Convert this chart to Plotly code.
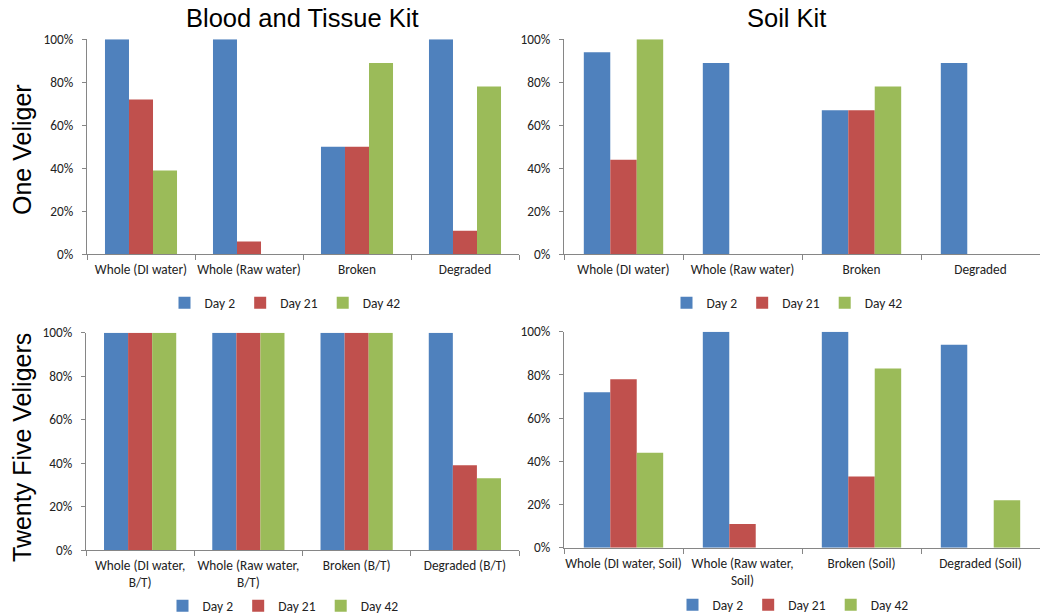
import plotly.graph_objects as go

# Categories for each panel
cats_bt_one = ["Whole (DI water)", "Whole (Raw water)", "Broken", "Degraded"]
cats_soil_one = ["Whole (DI water)", "Whole (Raw water)", "Broken", "Degraded"]
cats_bt_25 = ["Whole (DI water,<br>B/T)", "Whole (Raw water,<br>B/T)", "Broken (B/T)", "Degraded (B/T)"]
cats_soil_25 = ["Whole (DI water, Soil)", "Whole (Raw water,<br>Soil)", "Broken (Soil)", "Degraded (Soil)"]

series_names = ["Day 2", "Day 21", "Day 42"]

# Detection rates (fraction) per panel: Day 2, Day 21, Day 42
bt_one_day2 = [1.00, 1.00, 0.50, 1.00]
bt_one_day21 = [0.72, 0.06, 0.50, 0.11]
bt_one_day42 = [0.39, 0.00, 0.89, 0.78]

soil_one_day2 = [0.94, 0.89, 0.67, 0.89]
soil_one_day21 = [0.44, 0.00, 0.67, 0.00]
soil_one_day42 = [1.00, 0.00, 0.78, 0.00]

bt_25_day2 = [1.00, 1.00, 1.00, 1.00]
bt_25_day21 = [1.00, 1.00, 1.00, 0.39]
bt_25_day42 = [1.00, 1.00, 1.00, 0.33]

soil_25_day2 = [0.72, 1.00, 1.00, 0.94]
soil_25_day21 = [0.78, 0.11, 0.33, 0.00]
soil_25_day42 = [0.44, 0.00, 0.83, 0.22]

colors = ["#4F81BD", "#C0504D", "#9BBB59"]

W, H = 1042, 615
TICK_FONT = dict(family="Carlito, Calibri, Liberation Sans, Arial", size=13.3, color="#222222")
LEGEND_FONT = dict(family="Carlito, Calibri, Liberation Sans, Arial", size=13.5, color="#222222")
AXIS_COLOR = "#868686"

panels = [
    # (categories, series, xaxis id, yaxis id, legend id, x px range, y px range (top, bottom), legend center)
    (cats_bt_one, [bt_one_day2, bt_one_day21, bt_one_day42], "x", "y", "legend", (87, 519), (39.3, 254.3), (285, 303)),
    (cats_soil_one, [soil_one_day2, soil_one_day21, soil_one_day42], "x2", "y2", "legend2", (564, 1040), (39.3, 254.3), (787, 303)),
    (cats_bt_25, [bt_25_day2, bt_25_day21, bt_25_day42], "x3", "y3", "legend3", (86, 519), (332.7, 550), (283, 606)),
    (cats_soil_25, [soil_25_day2, soil_25_day21, soil_25_day42], "x4", "y4", "legend4", (564, 1040), (331.7, 547.7), (793, 605)),
]

fig = go.Figure()
layout = dict(
    width=W, height=H,
    margin=dict(l=0, r=0, t=0, b=0, autoexpand=False),
    paper_bgcolor="white", plot_bgcolor="white",
    barmode="group", bargap=0.333, bargroupgap=0,
    showlegend=True,
)

for cats, series, xa, ya, lg, (x0, x1), (ytop, ybot), (lx, ly) in panels:
    for name, vals, col in zip(series_names, series, colors):
        fig.add_trace(go.Bar(
            x=cats, y=vals, name=name, marker=dict(color=col, line=dict(width=0)),
            xaxis=xa, yaxis=ya, legend=lg,
        ))
    xkey = "xaxis" + xa[1:]
    ykey = "yaxis" + ya[1:]
    layout[xkey] = dict(
        domain=[x0 / W, x1 / W], anchor=ya, type="category",
        showline=True, linecolor=AXIS_COLOR, linewidth=1,
        ticks="outside", tickson="boundaries", ticklen=5, tickcolor=AXIS_COLOR,
        tickangle=0, automargin=False, ticklabelstandoff=3,
        tickfont=TICK_FONT, showgrid=False, fixedrange=True,
    )
    layout[ykey] = dict(
        domain=[1 - ybot / H, 1 - ytop / H], anchor=xa,
        range=[0, 1], tickvals=[0, 0.2, 0.4, 0.6, 0.8, 1.0],
        tickformat=".0%", showline=True, linecolor=AXIS_COLOR, linewidth=1,
        ticks="outside", ticklen=4, tickcolor=AXIS_COLOR, automargin=False,
        tickfont=TICK_FONT, showgrid=False, zeroline=False, fixedrange=True,
        ticklabelstandoff=6,
    )
    layout[lg] = dict(
        orientation="h", x=lx / W, y=1 - ly / H, xanchor="center", yanchor="middle",
        font=LEGEND_FONT, bgcolor="rgba(0,0,0,0)", itemwidth=30, tracegroupgap=0,
    )

fig.update_layout(**layout)

TITLE_FONT = dict(family="Liberation Sans, Arial", size=25.5, color="black")
ROW_FONT = dict(family="Liberation Sans, Arial", size=25, color="black")

fig.add_annotation(text="Blood and Tissue Kit", x=301.5 / W, y=1 - 18 / H, xref="paper", yref="paper",
                   showarrow=False, font=TITLE_FONT, xanchor="center", yanchor="middle")
fig.add_annotation(text="Soil Kit", x=786 / W, y=1 - 18 / H, xref="paper", yref="paper",
                   showarrow=False, font=TITLE_FONT, xanchor="center", yanchor="middle")
fig.add_annotation(text="One Veliger", x=22 / W, y=1 - 150 / H, xref="paper", yref="paper",
                   showarrow=False, font=ROW_FONT, textangle=-90, xanchor="center", yanchor="middle")
fig.add_annotation(text="Twenty Five Veligers", x=22 / W, y=1 - 448 / H, xref="paper", yref="paper",
                   showarrow=False, font=ROW_FONT, textangle=-90, xanchor="center", yanchor="middle")

fig.write_html("out.html")
